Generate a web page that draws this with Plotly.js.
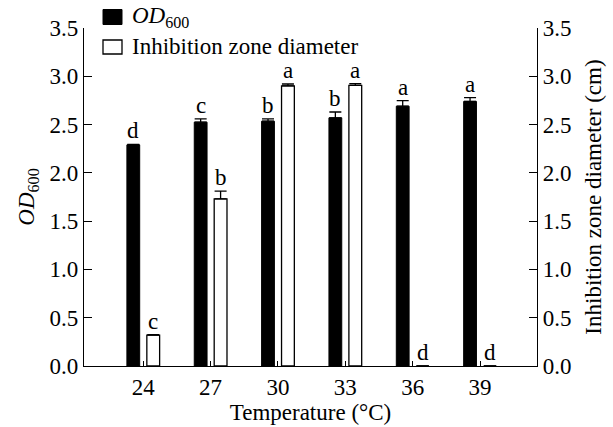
<!DOCTYPE html>
<html>
<head>
<meta charset="utf-8">
<script src="https://cdn.plot.ly/plotly-3.0.1.min.js"></script>
<style>html,body{margin:0;padding:0;background:#fff;}#chart{width:613px;height:427px;}</style>
</head>
<body>
<div id="chart"></div>
<script>
// Data
const temperatures = ['24', '27', '30', '33', '36', '39'];
const od600 = [2.29, 2.525, 2.535, 2.57, 2.69, 2.74];
const od600Err = [0.005, 0.035, 0.025, 0.06, 0.057, 0.038];
const od600Letters = ['d', 'c', 'b', 'b', 'a', 'a'];
const inhibition = [0.32, 1.73, 2.90, 2.905, 0, 0];
const inhibitionErr = [0.005, 0.08, 0.02, 0.02, null, null];
const inhibitionLetters = ['c', 'b', 'a', 'a', 'd', 'd'];
const seriesNames = ['<i>OD</i><sub>600</sub>', 'Inhibition zone diameter'];

const FONT = 'Liberation Serif, Times New Roman, serif';
const FS = 23;
const BW = 0.19;      // bar width in category units
const SHIFT = 0.148;  // distance of bar centre from category centre

// plot area in pixels (for legend placement in paper coords)
const M = {l: 84, r: 76, t: 28, b: 61};
const PW = 613 - M.l - M.r, PH = 427 - M.t - M.b;
const px = v => (v - M.l) / PW;
const py = v => (427 - M.b - v) / PH;

const errStyle = (arr) => ({
  type: 'data', symmetric: false, array: arr,
  arrayminus: arr.map(v => (v === null ? null : 0)), color: '#000', thickness: 1.3, width: 6
});

const traces = [
  {
    type: 'bar', name: seriesNames[0],
    x: temperatures, y: od600, yaxis: 'y',
    width: BW, offset: -SHIFT - BW / 2,
    marker: {color: '#000', line: {color: '#000', width: 1}},
    error_y: errStyle(od600Err)
  },
  {
    type: 'bar', name: seriesNames[1],
    x: temperatures, y: inhibition, yaxis: 'y2',
    width: BW, offset: SHIFT - BW / 2,
    marker: {color: '#fff', line: {color: '#000', width: 1.3}},
    error_y: errStyle(inhibitionErr)
  }
];

const annotations = [];
temperatures.forEach((t, i) => {
  annotations.push({
    x: i - SHIFT, y: od600[i] + (od600Err[i] || 0), xref: 'x', yref: 'y',
    text: od600Letters[i], showarrow: false, yanchor: 'bottom',
    font: {family: FONT, size: FS, color: '#000'}, borderpad: 0
  });
  annotations.push({
    x: i + SHIFT, y: inhibition[i] + (inhibitionErr[i] || 0), xref: 'x', yref: 'y2',
    text: inhibitionLetters[i], showarrow: false, yanchor: 'bottom',
    font: {family: FONT, size: FS, color: '#000'}, borderpad: 0
  });
});

// custom legend (text)
const legendRowsY = [17, 47];
seriesNames.forEach((n, k) => {
  annotations.push({
    xref: 'paper', yref: 'paper', x: px(131), y: py(legendRowsY[k]),
    xanchor: 'left', yanchor: 'middle', text: n, showarrow: false,
    font: {family: FONT, size: FS, color: '#000'}, borderpad: 0
  });
});
// custom legend (symbols)
const shapes = [
  {type: 'rect', xref: 'paper', yref: 'paper', x0: px(103), x1: px(122),
   y0: py(legendRowsY[0] - 7.5), y1: py(legendRowsY[0] + 7.5),
   fillcolor: '#000', line: {color: '#000', width: 1}},
  {type: 'rect', xref: 'paper', yref: 'paper', x0: px(103), x1: px(122),
   y0: py(legendRowsY[1] - 7), y1: py(legendRowsY[1] + 7),
   fillcolor: '#fff', line: {color: '#000', width: 1.3}}
];

const yCommon = {
  range: [0, 3.5], dtick: 0.5, tick0: 0, tickformat: '.1f',
  showline: true, linecolor: '#000', linewidth: 1.2,
  ticks: 'inside', ticklen: 8, tickwidth: 1.2, tickcolor: '#000',
  showgrid: false, zeroline: false,
  tickfont: {family: FONT, size: FS, color: '#000'}
};

const layout = {
  width: 613, height: 427,
  margin: Object.assign({autoexpand: false}, M),
  paper_bgcolor: '#fff', plot_bgcolor: '#fff',
  font: {family: FONT, size: FS, color: '#000'},
  barmode: 'overlay',
  showlegend: false,
  xaxis: {
    type: 'category', range: [-0.88, 5.846],
    showline: true, linecolor: '#000', linewidth: 1.2,
    ticks: 'inside', ticklen: 5, tickwidth: 1, tickcolor: '#000',
    showgrid: false, zeroline: false,
    tickfont: {family: FONT, size: FS, color: '#000'},
    title: {text: 'Temperature (°C)', font: {family: FONT, size: FS, color: '#000'}, standoff: 2}
  },
  yaxis: Object.assign({}, yCommon, {
    title: {text: '<i>OD</i><sub>600</sub>', font: {family: FONT, size: FS, color: '#000'}, standoff: 8}
  }),
  yaxis2: Object.assign({}, yCommon, {
    overlaying: 'y', side: 'right',
    title: {text: 'Inhibition zone diameter (cm)', font: {family: FONT, size: FS, color: '#000'}, standoff: 14}
  }),
  annotations: annotations,
  shapes: shapes
};

Plotly.newPlot('chart', traces, layout, {displayModeBar: false, staticPlot: true});
</script>
</body>
</html>
